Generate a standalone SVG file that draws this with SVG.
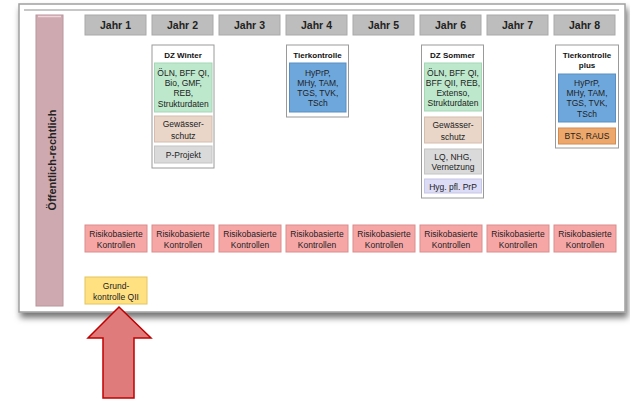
<svg xmlns="http://www.w3.org/2000/svg" width="630" height="400" viewBox="0 0 630 400">
<defs>
<filter id="shadow" x="-5%" y="-5%" width="115%" height="120%">
<feDropShadow dx="2" dy="5" stdDeviation="3" flood-color="#000" flood-opacity="0.55"/>
</filter>
<style>
text{font-family:"Liberation Sans",Arial,sans-serif;fill:#222;text-anchor:middle}
.hd{font-size:10.5px;font-weight:bold}
.tt{font-size:8px;font-weight:bold;fill:#111}
.sm{font-size:8.5px}
.hdr{fill:#bdbdbd;stroke:#a9a9a9;stroke-width:1}
.box{fill:#fff;stroke:#9a9a9a;stroke-width:1}
.grn{fill:#bde8cc;stroke:#a6d6b6;stroke-width:1}
.bge{fill:#e9d6c9;stroke:#d3bdae;stroke-width:1}
.gry{fill:#dadada;stroke:#c4c4c4;stroke-width:1}
.lav{fill:#dcdcf6;stroke:#c6c6e6;stroke-width:1}
.blu{fill:#6ea7dc;stroke:#5b8fc0;stroke-width:1}
.org{fill:#eea76a;stroke:#d18c52;stroke-width:1}
.rsk{fill:#f7a6a6;stroke:#d98c8c;stroke-width:1}
.ylw{fill:#ffe182;stroke:#e3c45e;stroke-width:1}
</style>
</defs>
<rect x="0" y="0" width="630" height="400" fill="#fff"/>
<g id="frame">
<rect x="19" y="4" width="606" height="308" fill="#fff" stroke="#a0a0a0" stroke-width="1.5" filter="url(#shadow)"/>
<line x1="24" y1="10" x2="619" y2="10" stroke="#b5b5b5" stroke-width="1.5"/>
</g>
<g id="bar">
<rect x="36" y="15" width="27" height="291" fill="#cfa9b0" stroke="#b8959b" stroke-width="1"/>
<line x1="38" y1="16.5" x2="61" y2="16.5" stroke="#f0d5da" stroke-width="1.5"/>
<text class="hd" font-size="11" transform="translate(55.5,160) rotate(-90)" style="font-size:11px">Öffentlich-rechtlich</text>
</g>
<g id="headers">
<g id="jahr1"><rect class="hdr" x="85" y="15" width="61" height="20"/><text class="hd" x="115.5" y="29">Jahr 1</text></g>
<g id="jahr2"><rect class="hdr" x="152" y="15" width="61" height="20"/><text class="hd" x="182.5" y="29">Jahr 2</text></g>
<g id="jahr3"><rect class="hdr" x="219" y="15" width="61" height="20"/><text class="hd" x="249.5" y="29">Jahr 3</text></g>
<g id="jahr4"><rect class="hdr" x="286" y="15" width="61" height="20"/><text class="hd" x="316.5" y="29">Jahr 4</text></g>
<g id="jahr5"><rect class="hdr" x="353" y="15" width="61" height="20"/><text class="hd" x="383.5" y="29">Jahr 5</text></g>
<g id="jahr6"><rect class="hdr" x="420" y="15" width="61" height="20"/><text class="hd" x="450.5" y="29">Jahr 6</text></g>
<g id="jahr7"><rect class="hdr" x="487" y="15" width="61" height="20"/><text class="hd" x="517.5" y="29">Jahr 7</text></g>
<g id="jahr8"><rect class="hdr" x="554" y="15" width="61" height="20"/><text class="hd" x="584.5" y="29">Jahr 8</text></g>
</g>
<g id="dz-winter">
<rect class="box" x="152" y="45" width="62" height="123"/>
<text class="tt" x="183" y="58">DZ Winter</text>
<rect class="grn" x="154.5" y="63" width="57.5" height="49"/>
<text class="sm" x="183.3" y="76">ÖLN, BFF QI,</text>
<text class="sm" x="183.3" y="86">Bio, GMF,</text>
<text class="sm" x="183.3" y="96">REB,</text>
<text class="sm" x="183.3" y="106.5">Strukturdaten</text>
<rect class="bge" x="154.5" y="116" width="57.5" height="26"/>
<text class="sm" x="183.3" y="127">Gewässer-</text>
<text class="sm" x="183.3" y="138.5">schutz</text>
<rect class="gry" x="154.5" y="146" width="57.5" height="17"/>
<text class="sm" x="183.3" y="158">P-Projekt</text>
</g>
<g id="tierkontrolle">
<rect class="box" x="286.5" y="45" width="62" height="72"/>
<text class="tt" x="317.5" y="58">Tierkontrolle</text>
<rect class="blu" x="289.5" y="63" width="56.5" height="49"/>
<text class="sm" x="317.8" y="76">HyPrP,</text>
<text class="sm" x="317.8" y="86">MHy, TAM,</text>
<text class="sm" x="317.8" y="96">TGS, TVK,</text>
<text class="sm" x="317.8" y="106">TSch</text>
</g>
<g id="dz-sommer">
<rect class="box" x="421.5" y="45" width="62" height="153"/>
<text class="tt" x="452.5" y="58">DZ Sommer</text>
<rect class="grn" x="424.5" y="63" width="57" height="48"/>
<text class="sm" x="453" y="76">ÖLN, BFF QI,</text>
<text class="sm" x="453" y="86">BFF QII, REB,</text>
<text class="sm" x="453" y="96">Extenso,</text>
<text class="sm" x="453" y="106">Strukturdaten</text>
<rect class="bge" x="424.5" y="117" width="57" height="26"/>
<text class="sm" x="453" y="128">Gewässer-</text>
<text class="sm" x="453" y="140">schutz</text>
<rect class="gry" x="424.5" y="149" width="57" height="25"/>
<text class="sm" x="453" y="160">LQ, NHG,</text>
<text class="sm" x="453" y="170">Vernetzung</text>
<rect class="lav" x="424.5" y="179" width="57" height="14"/>
<text class="sm" x="453" y="189.5">Hyg. pfl. PrP</text>
</g>
<g id="tierkontrolle-plus">
<rect class="box" x="555.5" y="45" width="63" height="103"/>
<text class="tt" x="587" y="58">Tierkontrolle</text>
<text class="tt" x="587" y="68">plus</text>
<rect class="blu" x="558.5" y="74" width="57" height="48"/>
<text class="sm" x="587" y="86">HyPrP,</text>
<text class="sm" x="587" y="96">MHy, TAM,</text>
<text class="sm" x="587" y="106">TGS, TVK,</text>
<text class="sm" x="587" y="117">TSch</text>
<rect class="org" x="558.5" y="128" width="57" height="16"/>
<text class="sm" x="587" y="139">BTS, RAUS</text>
</g>
<g id="risiko">
<g id="risiko1"><rect class="rsk" x="85" y="225" width="62" height="27"/><text class="sm" x="116" y="237">Risikobasierte</text><text class="sm" x="116" y="247.5">Kontrollen</text></g>
<g id="risiko2"><rect class="rsk" x="152" y="225" width="62" height="27"/><text class="sm" x="183" y="237">Risikobasierte</text><text class="sm" x="183" y="247.5">Kontrollen</text></g>
<g id="risiko3"><rect class="rsk" x="219" y="225" width="62" height="27"/><text class="sm" x="250" y="237">Risikobasierte</text><text class="sm" x="250" y="247.5">Kontrollen</text></g>
<g id="risiko4"><rect class="rsk" x="286" y="225" width="62" height="27"/><text class="sm" x="317" y="237">Risikobasierte</text><text class="sm" x="317" y="247.5">Kontrollen</text></g>
<g id="risiko5"><rect class="rsk" x="353" y="225" width="62" height="27"/><text class="sm" x="384" y="237">Risikobasierte</text><text class="sm" x="384" y="247.5">Kontrollen</text></g>
<g id="risiko6"><rect class="rsk" x="420" y="225" width="62" height="27"/><text class="sm" x="451" y="237">Risikobasierte</text><text class="sm" x="451" y="247.5">Kontrollen</text></g>
<g id="risiko7"><rect class="rsk" x="487" y="225" width="62" height="27"/><text class="sm" x="518" y="237">Risikobasierte</text><text class="sm" x="518" y="247.5">Kontrollen</text></g>
<g id="risiko8"><rect class="rsk" x="554" y="225" width="62" height="27"/><text class="sm" x="585" y="237">Risikobasierte</text><text class="sm" x="585" y="247.5">Kontrollen</text></g>
</g>
<g id="grundkontrolle">
<rect class="ylw" x="85" y="277" width="62" height="27"/>
<text class="sm" x="116" y="289">Grund-</text>
<text class="sm" x="116" y="300">kontrolle QII</text>
</g>
<g id="connectors">
<polygon points="119,307 151,338 134,338 134,398 103,398 103,338 88,338" fill="#df7b7b" stroke="#c00000" stroke-width="1.5" stroke-linejoin="miter"/>
</g>
</svg>
